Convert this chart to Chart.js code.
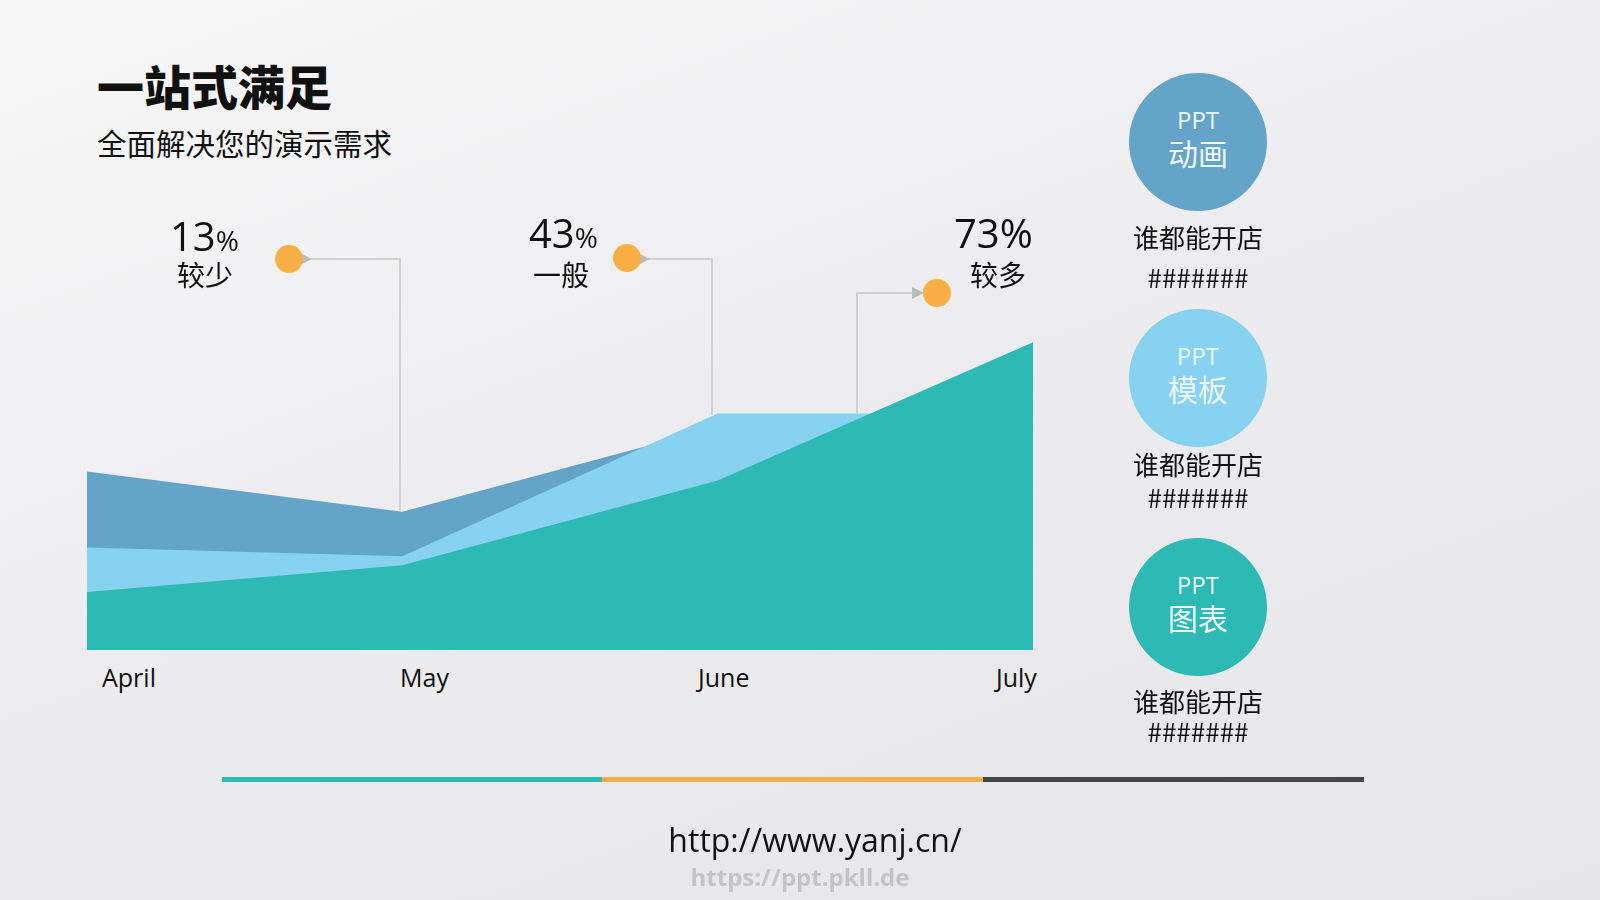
<!DOCTYPE html>
<html><head><meta charset="utf-8">
<script src="https://cdn.jsdelivr.net/npm/chart.js@4"></script>
<style>
body{margin:0;width:1600px;height:900px;overflow:hidden;background:linear-gradient(160deg,#f7f7f8 0%,#ececee 50%,#e6e6e9 100%);font-family:"Open Sans","Noto Sans CJK SC",sans-serif;color:#111;position:relative}
.a{position:absolute;white-space:nowrap}
.c{position:absolute;width:138px;height:138px;border-radius:50%;left:1129px;color:#eef6fb;text-align:center}
.c .p{font-size:24px;margin-top:32px;line-height:30px}.c .q{font-size:30px;line-height:38px}
.cap{position:absolute;left:1128px;width:140px;text-align:center;font-size:26px;font-family:"Noto Sans CJK SC"}
</style></head><body>
<div class="a" style="left:97px;top:50px;font-size:47px;font-weight:900;font-family:'Noto Sans CJK SC'">一站式满足</div>
<div class="a" style="left:97px;top:121px;font-size:29.5px;font-family:'Noto Sans CJK SC'">全面解决您的演示需求</div>
<div style="position:absolute;left:87px;top:204px;width:946px;height:446px"><canvas id="c"></canvas></div>
<div id="xl"></div>
<svg class="a" style="left:0;top:0" width="1600" height="900">
<defs><marker id="m" markerWidth="8" markerHeight="8" refX="4" refY="4" orient="auto"><path d="M8,0 L0,4 L8,8 z" fill="#bbb"/></marker>
<marker id="m2" markerWidth="8" markerHeight="8" refX="4" refY="4" orient="auto"><path d="M0,0 L8,4 L0,8 z" fill="#bbb"/></marker></defs>
<polyline points="400,510 400,259 306,259" fill="none" stroke="#c8c8c8" stroke-width="1.5" marker-end="url(#m)"/>
<polyline points="712,415 712,259 644,259" fill="none" stroke="#c8c8c8" stroke-width="1.5" marker-end="url(#m)"/>
<polyline points="857,413 857,293 918,293" fill="none" stroke="#c8c8c8" stroke-width="1.5" marker-end="url(#m2)"/>
<circle cx="289" cy="259" r="14" fill="#f8b046"/><circle cx="627" cy="258" r="14" fill="#f8b046"/><circle cx="937" cy="293" r="14" fill="#f8b046"/>
<rect x="222" y="777" width="380" height="5" fill="#2dbdb7"/><rect x="602" y="777" width="381" height="5" fill="#f5ad45"/><rect x="983" y="777" width="381" height="5" fill="#46454b"/>
</svg>
<div class="a" style="left:170px;top:208px;font-size:40px">13<span style="font-size:28px">%</span></div>
<div class="a" style="left:177px;top:254px;font-size:28px;font-family:'Noto Sans CJK SC'">较少</div>
<div class="a" style="left:529px;top:205px;font-size:40px">43<span style="font-size:28px">%</span></div>
<div class="a" style="left:533px;top:254px;font-size:28px;font-family:'Noto Sans CJK SC'">一般</div>
<div class="a" style="left:954px;top:205px;font-size:40px">73%</div>
<div class="a" style="left:970px;top:254px;font-size:28px;font-family:'Noto Sans CJK SC'">较多</div>
<div class="c" style="top:73px;background:#64a4c8"><div class="p">PPT</div><div class="q">动画</div></div>
<div class="cap" style="top:218px">谁都能开店</div><div class="cap" style="top:258px">#######</div>
<div class="c" style="top:309px;background:#87d3ef"><div class="p">PPT</div><div class="q">模板</div></div>
<div class="cap" style="top:445px">谁都能开店</div><div class="cap" style="top:478px">#######</div>
<div class="c" style="top:538px;background:#2dbab5"><div class="p">PPT</div><div class="q">图表</div></div>
<div class="cap" style="top:682px">谁都能开店</div><div class="cap" style="top:712px">#######</div>
<div class="a" style="left:0;width:1630px;text-align:center;top:818px;font-size:32px">http://www.yanj.cn/</div>
<div class="a" style="left:0;width:1600px;text-align:center;top:860px;font-size:24px;color:#c4c4c4;font-weight:bold">https://ppt.pkll.de</div>
<script>
var months = ["April", "May", "June", "July"];
var chartSeries = [13, 19, 38, 69];
var templateSeries = [23, 21, 53, 53];
var animSeries = [40, 31, 50, 50];
var labelLeft = [102, 400, 698, 996];

months.forEach(function (m, i) {
    var d = document.createElement("div");
    d.className = "a";
    d.style.cssText = "left:" + labelLeft[i] + "px;top:660px;font-size:25px";
    d.textContent = m;
    document.getElementById("xl").appendChild(d);
});

function ds(data, color) {
    return {data: data, backgroundColor: color, borderWidth: 0, fill: "origin", pointRadius: 0, tension: 0};
}

new Chart(document.getElementById("c"), {
    type: "line",
    data: {
        labels: months,
        datasets: [ds(chartSeries, "#2dbab5"), ds(templateSeries, "#87d3ef"), ds(animSeries, "#64a4c8")]
    },
    options: {
        responsive: true, maintainAspectRatio: false, animation: false,
        layout: {padding: 0},
        plugins: {legend: {display: false}, tooltip: {enabled: false}},
        scales: {
            x: {display: false, offset: false},
            y: {display: false, min: 0, max: 100}
        }
    }
});
</script>
</body></html>
